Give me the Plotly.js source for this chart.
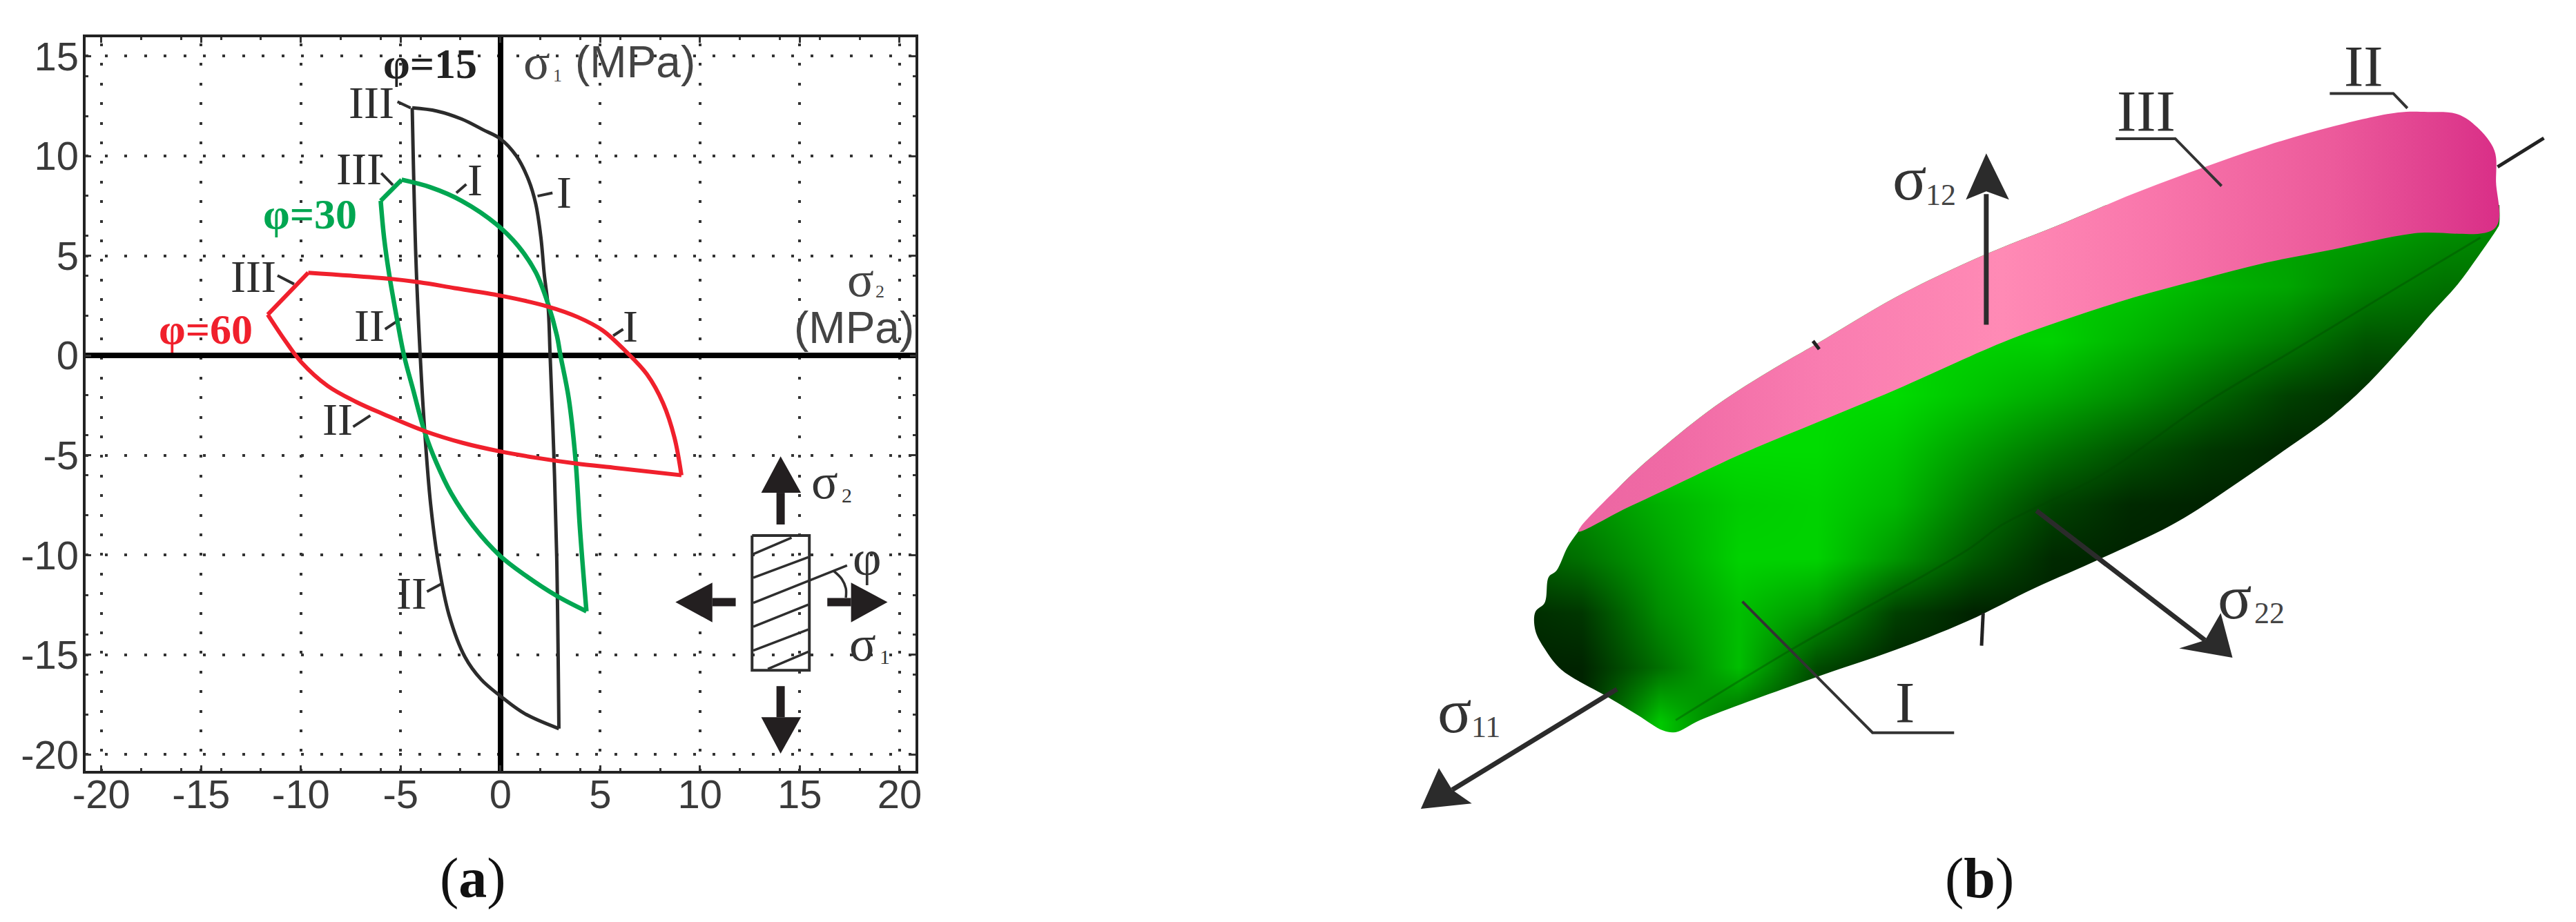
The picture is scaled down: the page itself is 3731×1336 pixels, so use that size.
<!DOCTYPE html>
<html>
<head>
<meta charset="utf-8">
<script src="https://cdn.plot.ly/plotly-3.0.1.min.js"></script>
<style>body{margin:0;background:#fff}</style>
</head>
<body>
<div id="plotArea" style="width:3731px;height:1336px"></div>
<script>
// (a) tick labels
var tickVals = [-20, -15, -10, -5, 0, 5, 10, 15, 20];
var tickText = ["-20", "-15", "-10", "-5", "0", "5", "10", "15", "20"];
var yTickVals = [-20, -15, -10, -5, 0, 5, 10, 15];
var yTickText = ["-20", "-15", "-10", "-5", "0", "5", "10", "15"];

// (a) yield curves. null = corner, the arc restarts there
var phi15X = [-4.42, -3.18, -1.94, -0.88, 0, 0.8, 1.41, 1.77, 2.03, 2.2, 2.39, 2.49, 2.67, 2.82, 2.93, null,
    2.93, 1.22, -0.05, -0.97, -1.78, -2.58, -3.1, -3.5, -3.79, -4.02, -4.24, -4.42];
var phi15Y = [12.41, 12.25, 11.85, 11.32, 10.86, 10, 8.8, 7.6, 5.9, 4.04, 2.45, 0, -4.78, -10.07, -18.7, null,
    -18.7, -17.95, -17.03, -16.23, -15.1, -12.99, -10.47, -7.43, -3.85, 0, 4.99, 12.41];
var phi30X = [-6, null, -6, -4.95, null, -4.95, -3.53, -1.94, -0.18, 0.88, 1.77, 2.39, 2.83, 3.01, 3.42, 3.76, 3.99, 4.31, null,
    4.31, 2.84, 1.22, -0.05, -1.31, -2.47, -3.21, -3.79, -4.37, -4.83, -5.2, -5.57, -5.83, -6];
var phi30Y = [7.75, null, 7.75, 8.81, null, 8.81, 8.44, 7.75, 6.56, 5.5, 4.17, 2.58, 1, 0, -2.13, -5.18, -8.75, -12.82, null,
    -12.82, -12.06, -11, -10.01, -8.62, -6.9, -5.37, -3.85, -1.73, 0, 1.92, 4.04, 5.9, 7.75];
var phi60X = [-11.66, null, -11.66, -9.63, null, -9.63, -5.48, -4.06, -2.3, 0, 2.39, 3.89, 5.12, 6.3, 7.34, 8.15, 8.72, 9.07, null,
    9.07, 5.84, 3.76, 1.69, -0.05, -1.89, -3.79, -5.83, -7.24, -8.66, -9.98, -10.78, -11.66];
var phi60Y = [2.05, null, 2.05, 4.15, null, 4.15, 3.84, 3.67, 3.38, 3, 2.45, 1.92, 1.26, 0.19, -0.94, -2.39, -4.11, -6, null,
    -6, -5.64, -5.41, -5.11, -4.8, -4.38, -3.79, -2.95, -2.32, -1.52, -0.33, 0.73, 2.05];

// (a) leader lines from the roman labels to the curves
var leaderX = [-5.16, -4.5, null, -5.97, -5.39, null, -2.21, -1.71, null, 1.86, 2.61, null, -11.17, -10.34, null,
    -5.78, -4.98, null, 5.65, 6.15, null, -7.38, -6.52, null, -3.68, -2.97];
var leaderY = [12.72, 12.41, null, 9.14, 8.54, null, 8.15, 8.58, null, 7.99, 8.15, null, 4.01, 3.58, null,
    1.32, 1.85, null, 0.99, 1.32, null, -3.57, -3.01, null, -11.83, -11.45];

// (a) specimen sketch
var rectX = [12.61, 15.48, 15.48, 12.61, 12.61];
var rectY = [-9.02, -9.02, -15.78, -15.78, -9.02];
var hatchX = [12.67, 14.59, null, 12.67, 15.43, null, 12.67, 17.37, null, 12.67, 15.43, null, 12.67, 15.43, null, 13.4, 15.43];
var hatchY = [-9.95, -9.13, null, -11.14, -10.11, null, -12.4, -10.52, null, -13.59, -12.49, null, -14.79, -13.73, null, -15.71, -14.85];
var angleX = [16.71, 17.11, 17.31, 17.31];
var angleY = [-10.81, -11.21, -11.67, -12.14];
var headsX = [14.04, 13.07, 15.06, 14.04, null, 14.04, 13.07, 15.06, 14.04, null, 8.77, 10.62, 10.62, 8.77, null, 19.4, 17.57, 17.57, 19.4];
var headsY = [-5.05, -6.88, -6.88, -5.05, null, -19.95, -18.13, -18.13, -19.95, null, -12.36, -11.38, -13.37, -12.36, null, -12.36, -11.38, -13.37, -12.36];
var shaftsX = [14.04, 14.04, null, 14.04, 14.04, null, 10.62, 11.79, null, 16.38, 17.57];
var shaftsY = [-6.88, -8.47, null, -16.57, -18.13, null, -12.36, -12.36, null, -12.36, -12.36];

// (b) outline of the surface, in crop coordinates of panel b
var bodyTopX = [296, 353, 400, 470, 540, 600, 700, 800, 920, 1004, 1089, 1173, 1257, 1341, 1379, 1425, 1446, 1466, 1469, 1470];
var bodyTopY = [850, 761, 700, 620, 555, 505, 420, 350, 280, 229, 183, 141, 104, 74, 62, 80, 104, 150, 207, 286];
var bodyLowX = [1468, 1442, 1417, 1383, 1350, 1299, 1257, 1198, 1131, 1059, 962, 878, 792, 700, 593, 451, 420, 404, 372, 333, 274, 253, 241, 241, 253, 258, 268, 282, 296];
var bodyLowY = [292, 347, 396, 450, 505, 584, 638, 699, 766, 833, 900, 954, 1015, 1068, 1121, 1197, 1219, 1216, 1188, 1154, 1104, 1066, 1032, 998, 981, 934, 922, 879, 850];
var pinkX = [296, 353, 400, 470, 540, 600, 700, 800, 920, 1004, 1089, 1173, 1257, 1341, 1379, 1417, 1442, 1464, 1466, 1465,
    1362, 1257, 1173, 1089, 1004, 920, 836, 700, 600, 500, 412, 353, 296];
var pinkY = [850, 761, 700, 620, 555, 505, 420, 350, 280, 229, 183, 141, 106, 80, 79, 83, 107, 150, 207, 292,
    302, 332, 356, 387, 420, 459, 503, 590, 650, 710, 770, 810, 850];
var ridgeX = [420, 569, 792, 836, 962, 1089, 1215, 1341, 1446];
var ridgeY = [1197, 1066, 884, 838, 747, 620, 511, 401, 310];

// (b) green shading, 0 dark to 1 bright
var shadeX = [200, 300, 400, 500, 600, 700, 800, 900, 1000, 1100, 1200, 1300, 1400, 1500];
var shadeY = [300, 400, 500, 600, 700, 800, 900, 1000, 1100, 1200, 1300];
var shadeZ = [
    [.7, .7, .7, .7, .7, .7, .7, .7, .7, .7, .7, .7, .6, .55],
    [.9, .9, .9, .9, .9, .9, .9, .9, .9, .8, .72, .55, .45, .45],
    [.95, .95, .95, .95, .95, .95, .95, .95, .8, .65, .5, .3, .3, .3],
    [1, 1, 1, 1, 1, 1, .88, .75, .6, .4, .2, .1, .1, .1],
    [1, 1, 1, 1, 1, .9, .68, .48, .3, .15, .06, .06, .06, .06],
    [.6, .6, .78, .92, .95, .82, .5, .22, .08, .04, .04, .04, .04, .04],
    [.3, .45, .7, .95, .95, .65, .32, .08, .04, .04, .04, .04, .04, .04],
    [.08, .15, .6, .85, .65, .2, .04, .03, .03, .03, .03, .03, .03, .03],
    [.04, .05, .45, .85, .25, .04, .03, .03, .03, .03, .03, .03, .03, .03],
    [.04, .04, .9, .4, .1, .03, .03, .03, .03, .03, .03, .03, .03, .03],
    [.04, .04, .9, .4, .1, .03, .03, .03, .03, .03, .03, .03, .03, .03]
];
var frameX = [100, 100, 1640, 1640, 100, 100];
var frameY = [850, 1400, 1400, 200, 200, 850];

// (b) axes and arrows
var stubX = [1468, 1527, null, 595, 603, null, 812, 810];
var stubY = [180, 127, null, 500, 515, null, 1000, 1060];
var arrowLineX = [816, 816, null, 880, 1095, null, 345, 135];
var arrowLineY = [470, 230, null, 812, 1050, null, 1140, 1325];
var arrowHeadX = [816, 790, 816, 845, 816, null, 1130, 1062, 1095, 1115, 1130, null, 95, 160, 135, 118, 95];
var arrowHeadY = [155, 240, 225, 240, 155, null, 1082, 1065, 1050, 1000, 1082, null, 1360, 1350, 1325, 1285, 1360];
var bLeaderX = [981, 1057, 1116, null, 1254, 1335, 1353, null, 505, 671, 775];
var bLeaderY = [128, 128, 215, null, 45, 45, 72, null, 979, 1220, 1220];

var serif = "Liberation Serif";
var sans = "Liberation Sans";
var inkColor = "#2e2e2e";
var greenColor = "#00a651";
var redColor = "#f0202c";

// [text, x, y, size, colour, font]
var labelsA = [
    ["<b>φ=15</b>", -3.53, 14.64, 62, "#222222", serif],
    ["III", -6.45, 12.68, 66, inkColor, serif],
    ["III", -7.1, 9.36, 66, inkColor, serif],
    ["I", -1.27, 8.81, 66, inkColor, serif],
    ["I", 3.18, 8.17, 66, inkColor, serif],
    ["III", -12.37, 3.97, 66, inkColor, serif],
    ["II", -6.57, 1.52, 66, inkColor, serif],
    ["I", 6.5, 1.46, 66, inkColor, serif],
    ["II", -8.16, -3.19, 66, inkColor, serif],
    ["II", -4.45, -11.92, 66, inkColor, serif],
    ["<b>φ=30</b>", -9.54, 7.11, 62, greenColor, serif],
    ["<b>φ=60</b>", -14.75, 1.32, 62, redColor, serif],
    ["σ", 1.82, 14.72, 72, "#444444", serif],
    ["1", 2.86, 14.04, 26, "#444444", serif],
    ["(MPa)", 6.77, 14.72, 64, "#444444", sans],
    ["σ", 18.04, 3.8, 72, "#444444", serif],
    ["2", 19.03, 3.2, 26, "#444444", serif],
    ["(MPa)", 17.73, 1.4, 64, "#444444", sans],
    ["σ", 16.25, -6.31, 72, "#333333", serif],
    ["2", 17.37, -7, 30, "#333333", serif],
    ["φ", 18.37, -10.15, 72, "#333333", serif],
    ["σ", 18.17, -14.45, 72, "#333333", serif],
    ["1", 19.27, -15.11, 30, "#333333", serif]
];
var labelsB = [
    ["III", 1020, 78, 85, inkColor, serif],
    ["II", 1297, -5, 85, inkColor, serif],
    ["I", 712, 1165, 85, inkColor, serif],
    ["σ", 718, 200, 92, "#333333", serif],
    ["12", 758, 232, 44, "#444444", serif],
    ["σ", 1133, 970, 92, "#333333", serif],
    ["22", 1177, 1000, 44, "#444444", serif],
    ["σ", 138, 1180, 92, "#333333", serif],
    ["11", 178, 1210, 44, "#444444", serif]
];

function lineTrace(x, y, color, width, shape, axes) {
    return {
        x: x, y: y, type: "scatter", mode: "lines",
        connectgaps: false,
        line: {color: color, width: width, shape: shape || "linear", smoothing: 1},
        xaxis: axes ? "x2" : "x", yaxis: axes ? "y2" : "y",
        hoverinfo: "skip"
    };
}

function fillTrace(x, y, color, axes, shape) {
    return {
        x: x, y: y, type: "scatter", mode: "lines", fill: "toself", fillcolor: color,
        line: {width: 0, shape: shape || "linear", smoothing: 1},
        xaxis: axes ? "x2" : "x", yaxis: axes ? "y2" : "y",
        hoverinfo: "skip"
    };
}

var silhouetteX = bodyTopX.concat(bodyLowX);
var silhouetteY = bodyTopY.concat(bodyLowY);

var pinkTrace = fillTrace(pinkX, pinkY, "#f77fb0", true, "spline");
pinkTrace.fillgradient = {
    type: "horizontal",
    colorscale: [[0, "#ec66a2"], [0.1, "#f06aa5"], [0.26, "#f97cb0"], [0.46, "#ff8ab5"], [0.6, "#fa79ad"], [0.68, "#f56ea6"], [0.82, "#ec5a9b"], [0.93, "#e0408f"], [1, "#d92e87"]]
};

var traces = [
    lineTrace(leaderX, leaderY, inkColor, 4),
    lineTrace(phi15X, phi15Y, "#2b2b2b", 5, "spline"),
    lineTrace(phi30X, phi30Y, greenColor, 6.5, "spline"),
    lineTrace(phi60X, phi60Y, redColor, 6, "spline"),
    lineTrace(rectX, rectY, inkColor, 4),
    lineTrace(hatchX, hatchY, inkColor, 3.5),
    lineTrace(angleX, angleY, inkColor, 3.5, "spline"),
    fillTrace(headsX, headsY, "#231f20"),
    lineTrace(shaftsX, shaftsY, "#231f20", 12),
    {
        x: shadeX, y: shadeY, z: shadeZ, type: "heatmap", zsmooth: "best",
        zmin: 0, zmax: 1, showscale: false,
        colorscale: [[0, "#001a00"], [0.5, "#007a00"], [1, "#00dc00"]],
        xaxis: "x2", yaxis: "y2", hoverinfo: "skip"
    },
    fillTrace(frameX.concat(silhouetteX), frameY.concat(silhouetteY), "#ffffff", true, "spline"),
    pinkTrace,
    lineTrace(ridgeX, ridgeY, "rgba(0,70,0,0.35)", 3, "spline", true),
    lineTrace(stubX, stubY, "#222222", 5, "linear", true),
    lineTrace(arrowLineX, arrowLineY, "#2b2b2b", 7, "linear", true),
    fillTrace(arrowHeadX, arrowHeadY, "#2b2b2b", true),
    lineTrace(bLeaderX, bLeaderY, "#333333", 4, "linear", true)
];

var annotations = [];
labelsA.forEach(function(l) {
    annotations.push({
        text: l[0], x: l[1], y: l[2], xref: "x", yref: "y", showarrow: false,
        xanchor: "center", yanchor: "middle", font: {size: l[3], color: l[4], family: l[5]}
    });
});
labelsB.forEach(function(l) {
    annotations.push({
        text: l[0], x: l[1], y: l[2], xref: "x2", yref: "y2", showarrow: false,
        xanchor: "center", yanchor: "middle", font: {size: l[3], color: l[4], family: l[5]}
    });
});
annotations.push({text: "(<b>a</b>)", x: 685 / 3731, y: 1 - 1272 / 1336, xref: "paper", yref: "paper",
    xanchor: "center", yanchor: "middle", showarrow: false, font: {size: 82, color: "#111111", family: serif}});
annotations.push({text: "(<b>b</b>)", x: 2867 / 3731, y: 1 - 1272 / 1336, xref: "paper", yref: "paper",
    xanchor: "center", yanchor: "middle", showarrow: false, font: {size: 82, color: "#111111", family: serif}});

var axisCommon = {
    tickmode: "array",
    ticks: "inside", ticklen: 8, tickwidth: 3, tickcolor: "#333333",
    mirror: "allticks", showline: true, linecolor: "#222222", linewidth: 4,
    showgrid: true, gridcolor: "#333333", gridwidth: 4,
    zeroline: true, zerolinecolor: "#000000", zerolinewidth: 8,
    tickfont: {size: 58, color: "#3a3a3a", family: sans},
    minor: {tickmode: "linear", tick0: 0, dtick: 2, ticks: "inside", ticklen: 4, tickwidth: 3, tickcolor: "#333333", showgrid: false},
    fixedrange: true
};

var xaxis = Object.assign({}, axisCommon, {
    domain: [123.6 / 3731, 1326 / 3731], range: [-20.8, 20.8],
    griddash: "0px,9px,4px,15.4px",
    tickvals: tickVals, ticktext: tickText, ticklabelstandoff: -19
});
var yaxis = Object.assign({}, axisCommon, {
    domain: [1 - 1116.5 / 1336, 1 - 54 / 1336], range: [-20.8, 15.95],
    griddash: "4px,24.4px",
    tickvals: yTickVals, ticktext: yTickText, ticklabelstandoff: -6
});

var layout = {
    width: 3731, height: 1336,
    margin: {l: 0, r: 0, t: 0, b: 0},
    paper_bgcolor: "#ffffff", plot_bgcolor: "#ffffff",
    showlegend: false, hovermode: false,
    xaxis: xaxis, yaxis: yaxis,
    xaxis2: {domain: [1950 / 3731, 1], range: [0, 1568], visible: false, fixedrange: true, anchor: "y2"},
    yaxis2: {domain: [0, 1], range: [1568, -126.86], visible: false, fixedrange: true, anchor: "x2"},
    annotations: annotations
};

Plotly.newPlot("plotArea", traces, layout, {displayModeBar: false, responsive: false});
</script>
</body>
</html>
